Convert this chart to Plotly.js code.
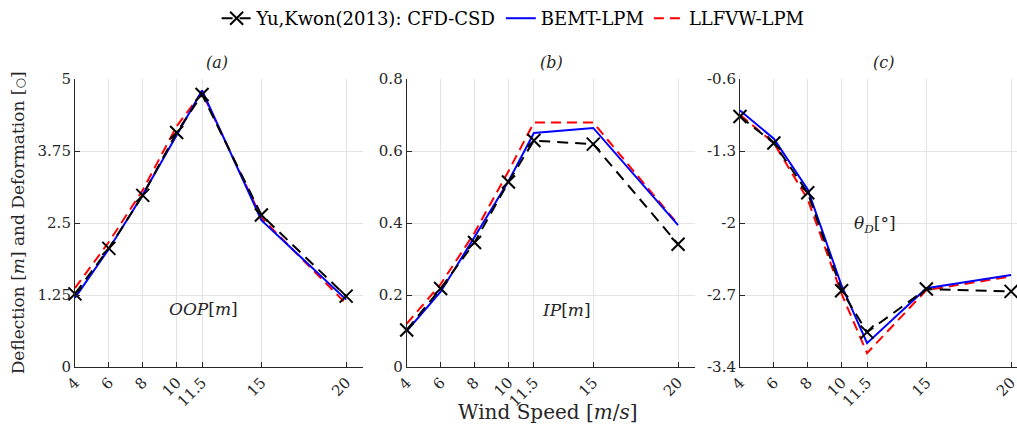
<!DOCTYPE html>
<html><head><meta charset="utf-8">
<script src="https://cdn.plot.ly/plotly-3.0.1.min.js"></script>
<style>html,body{margin:0;padding:0;background:#fff;overflow:hidden}</style>
</head><body><div id="chart" style="width:1017px;height:432px"></div>
<script>
const windSpeed = [4, 6, 8, 10, 11.5, 15, 20];
const xTickLabels = ['4', '6', '8', '10', '11.5', '15', '20'];

// (a) OOP deflection [m]
const oopCFD   = [1.27, 2.06, 2.98, 4.07, 4.73, 2.64, 1.23];
const oopBEMT  = [1.20, 2.05, 2.99, 4.03, 4.80, 2.55, 1.17];
const oopLLFVW = [1.37, 2.17, 3.07, 4.18, 4.77, 2.59, 1.10];

// (b) IP deflection [m]
const ipCFD   = [0.103, 0.218, 0.346, 0.514, 0.629, 0.619, 0.341];
const ipBEMT  = [0.100, 0.209, 0.361, 0.516, 0.650, 0.664, 0.394];
const ipLLFVW = [0.120, 0.230, 0.373, 0.544, 0.679, 0.679, 0.396];

// (c) theta_D [deg]
const thCFD   = [-0.965, -1.223, -1.706, -2.658, -3.061, -2.642, -2.665];
const thBEMT  = [-0.906, -1.181, -1.674, -2.610, -3.168, -2.635, -2.506];
const thLLFVW = [-0.948, -1.223, -1.771, -2.690, -3.265, -2.652, -2.520];

const yTicksA = [0, 1.25, 2.5, 3.75, 5];
const yTicksB = [0, 0.2, 0.4, 0.6, 0.8];
const yTicksC = [-3.4, -2.7, -2, -1.3, -0.6];
const yTickTextA = ['0', '1.25', '2.5', '3.75', '5'];
const yTickTextB = ['0', '0.2', '0.4', '0.6', '0.8'];
const yTickTextC = ['-3.4', '-2.7', '-2', '-1.3', '-0.6'];

const names = ['Yu,Kwon(2013): CFD-CSD', 'BEMT-LPM', 'LLFVW-LPM'];

const FONT = 'DejaVu Serif, Liberation Serif, serif';
const TXT = '#262626';
const panels = [
  {cfd: oopCFD, bemt: oopBEMT, ll: oopLLFVW, xa: 'x', ya: 'y'},
  {cfd: ipCFD, bemt: ipBEMT, ll: ipLLFVW, xa: 'x2', ya: 'y2'},
  {cfd: thCFD, bemt: thBEMT, ll: thLLFVW, xa: 'x3', ya: 'y3'}
];
const traces = [];
panels.forEach((p, i) => {
  traces.push({x: windSpeed, y: p.ll, xaxis: p.xa, yaxis: p.ya, mode: 'lines', name: names[2],
    line: {color: '#ff0000', width: 2, dash: '10px,6px'}, showlegend: i === 0, legendrank: 3, cliponaxis: false});
  traces.push({x: windSpeed, y: p.bemt, xaxis: p.xa, yaxis: p.ya, mode: 'lines', name: names[1],
    line: {color: '#0000ff', width: 2}, showlegend: i === 0, legendrank: 2, cliponaxis: false});
  traces.push({x: windSpeed, y: p.cfd, xaxis: p.xa, yaxis: p.ya, mode: 'lines+markers', name: names[0],
    line: {color: '#000000', width: 2, dash: '11px,7px'},
    marker: {symbol: 'x-thin', size: 13, color: '#000', line: {color: '#000', width: 2}},
    showlegend: i === 0, legendrank: 1, cliponaxis: false});
});

function xax(dom, rng) {
  return {domain: dom, range: rng, tickvals: windSpeed, ticktext: xTickLabels, tickangle: -45,
    ticks: 'inside', ticklen: 5, tickcolor: TXT, showline: true, linecolor: TXT, linewidth: 1,
    showgrid: true, gridcolor: '#e3e3e3', gridwidth: 1, zeroline: false, ticklabeloverflow: 'allow',
    tickfont: {family: FONT, size: 15, color: TXT}};
}
function yax(rng, tv, tt, anchor) {
  return {domain: [0, 1], range: rng, tickvals: tv, ticktext: tt, anchor: anchor,
    ticks: 'inside', ticklen: 5, tickcolor: TXT, showline: true, linecolor: TXT, linewidth: 1,
    showgrid: true, gridcolor: '#e3e3e3', gridwidth: 1, zeroline: false, ticklabeloverflow: 'allow',
    tickfont: {family: FONT, size: 15, color: TXT}};
}

const ann = [
  {text: '<i>(a)</i>', xref: 'paper', yref: 'paper', x: 0.2134, y: 1.059, xanchor: 'center', yanchor: 'middle', showarrow: false, font: {family: FONT, size: 16, color: TXT}},
  {text: '<i>(b)</i>', xref: 'paper', yref: 'paper', x: 0.542, y: 1.059, xanchor: 'center', yanchor: 'middle', showarrow: false, font: {family: FONT, size: 16, color: TXT}},
  {text: '<i>(c)</i>', xref: 'paper', yref: 'paper', x: 0.869, y: 1.059, xanchor: 'center', yanchor: 'middle', showarrow: false, font: {family: FONT, size: 16, color: TXT}},
  {text: '<i>OOP</i>[<i>m</i>]', xref: 'x', yref: 'y', x: 11.56, y: 1.01, xanchor: 'center', yanchor: 'middle', showarrow: false, font: {family: FONT, size: 17, color: TXT}},
  {text: '<i>IP</i>[<i>m</i>]', xref: 'x2', yref: 'y2', x: 13.4, y: 0.157, xanchor: 'center', yanchor: 'middle', showarrow: false, font: {family: FONT, size: 17, color: TXT}},
  {text: '<i>θ<sub>D</sub></i>[°]', xref: 'x3', yref: 'y3', x: 11.97, y: -2.01, xanchor: 'center', yanchor: 'middle', showarrow: false, font: {family: FONT, size: 17, color: TXT}},
  {text: 'Deflection [<i>m</i>] and Deformation [<span style="font-size:12px">○</span>]', xref: 'paper', yref: 'paper', x: 0.018, y: 0.5, textangle: -90,
    xanchor: 'center', yanchor: 'middle', showarrow: false, font: {family: FONT, size: 17, color: TXT}},
  {text: 'Wind Speed [<i>m</i>/<i>s</i>]', xref: 'paper', yref: 'paper', x: 0.539, y: -0.155, xanchor: 'center', yanchor: 'middle', showarrow: false,
    font: {family: FONT, size: 20, color: TXT}}
];

const layout = {
  width: 1017, height: 432,
  margin: {l: 0, r: 0, t: 77, b: 65},
  paper_bgcolor: '#fff', plot_bgcolor: '#fff',
  font: {family: FONT, color: TXT},
  showlegend: true,
  legend: {orientation: 'h', x: 0.213, y: 1.21, xanchor: 'left', yanchor: 'middle',
    font: {family: FONT, size: 18, color: '#000'}, traceorder: 'normal', bgcolor: 'rgba(0,0,0,0)'},
  xaxis: xax([0.0737, 0.357], [4, 21]),
  xaxis2: xax([0.3999, 0.6834], [4, 21]),
  xaxis3: xax([0.7276, 1.0], [4, 20.35]),
  yaxis: yax([0, 5], yTicksA, yTickTextA, 'x'),
  yaxis2: yax([0, 0.8], yTicksB, yTickTextB, 'x2'),
  yaxis3: yax([-3.4, -0.6], yTicksC, yTickTextC, 'x3'),
  annotations: ann
};
layout.xaxis2.anchor = 'y2';
layout.xaxis3.anchor = 'y3';
Plotly.newPlot('chart', traces, layout, {displayModeBar: false, staticPlot: true});
</script></body></html>
